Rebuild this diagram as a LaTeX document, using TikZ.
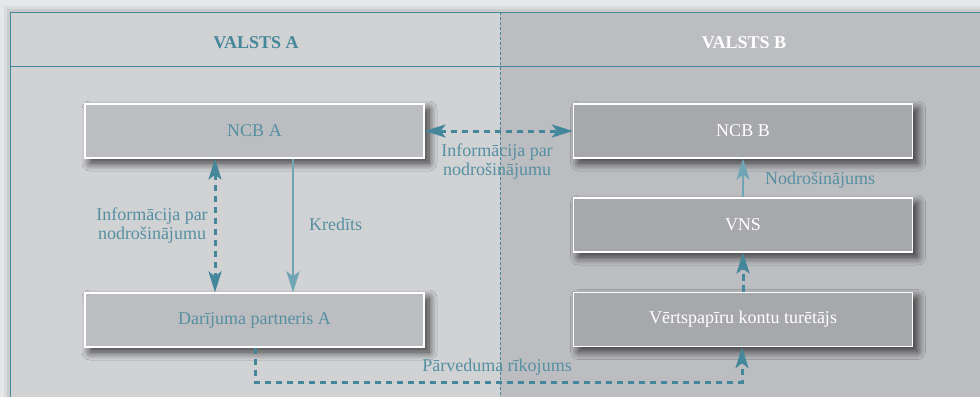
\documentclass[tikz,border=0pt]{standalone}
\usepackage{fontspec}
\setmainfont{Liberation Serif}
\usetikzlibrary{arrows.meta,shadows.blur}
\definecolor{outbg}{HTML}{E6E7E8}
\definecolor{leftbg}{HTML}{D1D2D4}
\definecolor{rightbg}{HTML}{BCBDC0}
\definecolor{boxa}{HTML}{BCBDC0}
\definecolor{boxb}{HTML}{A7A8AB}
\definecolor{teal}{HTML}{45879A}
\definecolor{tealtext}{HTML}{5590A2}
\definecolor{teallight}{HTML}{6FA5B4}
\tikzset{
  panelbox/.style={draw=white, line width=1.3pt, minimum width=339pt, minimum height=54pt, inner sep=0pt,
    font=\fontsize{18}{20}\selectfont,
    blur shadow={shadow blur steps=12, shadow xshift=5pt, shadow yshift=-5pt, shadow opacity=75, shadow blur radius=8pt}},
  abox/.style={panelbox, fill=boxa, text=tealtext},
  bbox/.style={panelbox, fill=boxb, text=white},
  lbl/.style={text=tealtext, font=\fontsize{18}{19}\selectfont, align=center, inner sep=1pt},
  dasharrow/.style={draw=teal, line width=3pt, dash pattern=on 6.5pt off 4.5pt, line cap=butt},
  solidarrow/.style={draw=teallight, line width=2.5pt},
  tip/.style={-{Stealth[length=21pt,width=13pt,inset=5pt]}},
  tips/.style={{Stealth[length=21pt,width=13pt,inset=5pt]}-{Stealth[length=21pt,width=13pt,inset=5pt]}},
}
\begin{document}
\begin{tikzpicture}[x=1pt,y=-1pt]
\useasboundingbox (0,0) rectangle (980,397);
\fill[outbg] (0,0) rectangle (980,397);
% frame shadow
\fill[black, opacity=0.05] (4,6) rectangle (980,397);
\fill[black, opacity=0.07] (7,9) rectangle (980,397);
\fill[leftbg] (10,12) rectangle (500,397);
\fill[rightbg] (500,12) rectangle (980,397);
\draw[teal, line width=1pt] (980,12) -- (10,12) -- (10,397);
\draw[teal, line width=1pt] (10,66) -- (980,66);
\draw[teal, line width=0.8pt, dash pattern=on 3pt off 2pt] (500,12) -- (500,397);
\node[font=\bfseries\fontsize{18}{20}\selectfont, text=teal] (ha) at (256,43) {VALSTS A};
\node[font=\bfseries\fontsize{18}{20}\selectfont, text=white] (hb) at (744,43) {VALSTS B};

\node[abox] (ncba) at (254.5,131) {NCB A};
\node[abox] (dpa) at (254.5,320) {Darījuma partneris A};
\node[bbox] (ncbb) at (743,131) {NCB B};
\node[bbox] (vns) at (743,225) {VNS};
\node[bbox] (vkt) at (743,319.5) {Vērtspapīru kontu turētājs};

% left vertical arrows
\draw[dasharrow, tips] (ncba.south -| 215,0) -- (dpa.north -| 215,0);
\draw[solidarrow, tip] (ncba.south -| 293,0) -- (dpa.north -| 293,0);
\node[lbl] (lbl1) at (152,226) {Informācija par\\nodrošinājumu};
\node[lbl, anchor=west] (lbl2) at (308,224) {Kredīts};

% horizontal
\draw[dasharrow, tips] (ncba.east) -- (ncbb.west);
\node[lbl] (lbl3) at (497,162) {Informācija par\\nodrošinājumu};

% right vertical
\draw[solidarrow, tip] (vns.north) -- (ncbb.south);
\node[lbl, anchor=west] (lbl4) at (764,180) {Nodrošinājums};
\draw[dasharrow, tip] (vkt.north) -- (vns.south);

% bottom path
\coordinate (c1) at (255,382);
\coordinate (c2) at (742,382);
\draw[dasharrow, tip] (dpa.south -| c1) -- (c1) -- (c2) -- (vkt.south -| c2);
\node[lbl] (lbl5) at (497,367) {Pārveduma rīkojums};
\end{tikzpicture}
\end{document}
